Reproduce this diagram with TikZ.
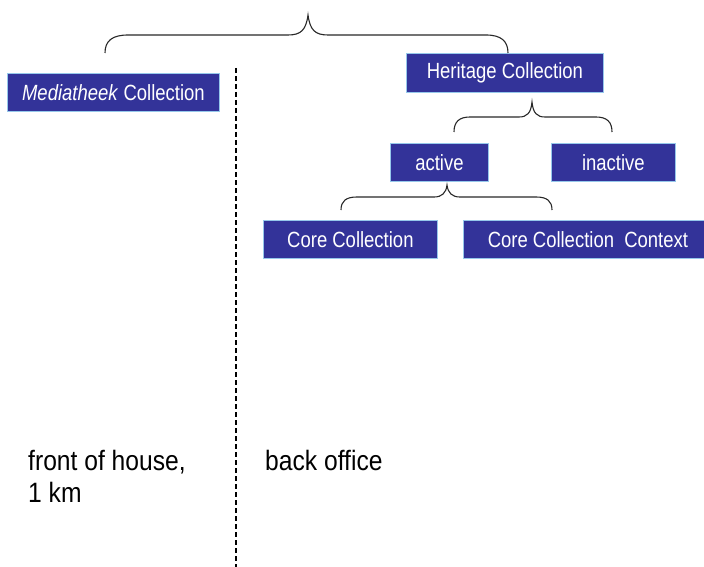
\documentclass[tikz,border=0pt]{standalone}
\usepackage{fontspec}
\setmainfont{Liberation Sans}
\newfontfamily\boxfont[FakeStretch=0.84]{Liberation Sans}
\newfontfamily\lblfont[FakeStretch=0.88]{Liberation Sans}
\definecolor{boxblue}{RGB}{51,51,153}
\definecolor{boxedge}{RGB}{150,200,235}
\definecolor{bracegray}{RGB}{40,40,40}
\begin{document}
\begin{tikzpicture}[x=1pt,y=-1pt,
  cbox/.style={draw=boxedge, line width=0.8pt, fill=boxblue, text=white,
    font=\boxfont\fontsize{22}{24}\selectfont, inner sep=0pt, anchor=north west},
  bracel/.style={draw=bracegray, line width=1.1pt},
  divider/.style={draw=black, line width=1.1pt, dash pattern=on 5pt off 3pt},
  lbl/.style={font=\lblfont\fontsize{28}{32}\selectfont, anchor=base west, inner sep=0pt}]
\useasboundingbox (0,0) rectangle (704,567);
% boxes
\node[cbox, minimum width=212pt, minimum height=38pt] (med) at (7,73) {\textit{Mediatheek} Collection};
\node[cbox, minimum width=197pt, minimum height=39pt] (her) at (406,53) {Heritage Collection};
\node[cbox, minimum width=98pt, minimum height=38pt] (act) at (390,143) {active};
\node[cbox, minimum width=124pt, minimum height=38pt] (inact) at (551,143) {inactive};
\node[cbox, minimum width=174pt, minimum height=38pt] (core) at (263,220) {Core Collection};
\node[cbox, minimum width=249pt, minimum height=38pt] (ctx) at (463,220) {Core Collection~ Context};
% braces
\draw[bracel] (105,53) .. controls (105,41) and (112,35) .. (128,35) -- (288,35)
  .. controls (301,35) and (306,30) .. (308,15)
  .. controls (310,30) and (315,35) .. (328,35) -- (486,35)
  .. controls (501,35) and (508,41) .. (508,53);
\draw[bracel] (454,132) .. controls (454,122) and (459,117) .. (470,117) -- (519,117)
  .. controls (527,117) and (531,113) .. (532,102)
  .. controls (533,113) and (537,117) .. (545,117) -- (596,117)
  .. controls (607,117) and (612,122) .. (612,132);
\draw[bracel] (341,210) .. controls (341,201) and (346,197) .. (357,197) -- (434,197)
  .. controls (442,197) and (446,193) .. (447,185)
  .. controls (448,193) and (452,197) .. (460,197) -- (536,197)
  .. controls (547,197) and (552,201) .. (552,210);
% divider
\coordinate (dtop) at (236,68);
\coordinate (dbot) at (236,567);
\draw[divider] (dtop) -- (dbot);
% labels
\node[lbl] (foh) at (28,470) {front of house,};
\node[lbl] (km) at (28,502) {1 km};
\node[lbl] (bo) at (265,470) {back office};
\end{tikzpicture}
\end{document}
